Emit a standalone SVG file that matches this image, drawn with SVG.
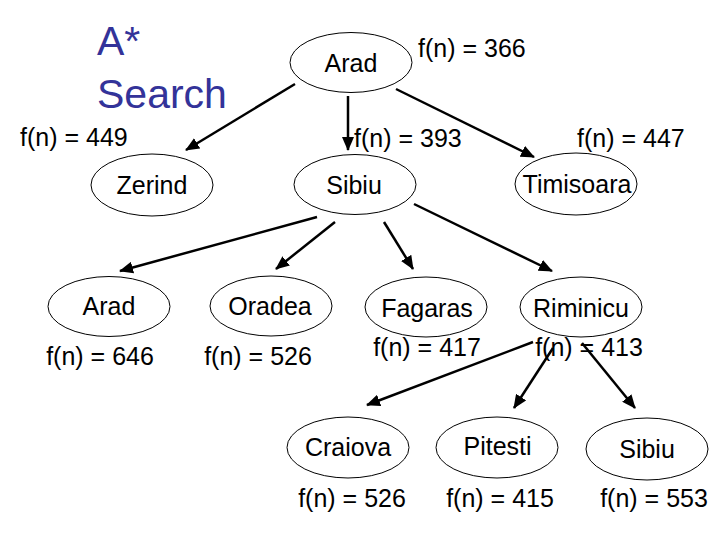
<svg xmlns="http://www.w3.org/2000/svg" width="720" height="540" viewBox="0 0 720 540">
<style>
text{font-family:"Liberation Sans",Arial,sans-serif;font-size:25px;fill:#000}
.t{font-size:41px;fill:#333399}
.m{text-anchor:middle}
ellipse{fill:#fff;stroke:#000;stroke-width:1}
.c line{stroke:#000;stroke-width:2.5}
</style>
<defs>
<marker id="ah" viewBox="0 0 14 12" refX="13" refY="6" markerWidth="14" markerHeight="12" markerUnits="userSpaceOnUse" orient="auto">
<path d="M0,0 L14,6 L0,12 z" fill="#000"/>
</marker>
</defs>
<rect width="720" height="540" fill="#fff"/>
<g id="title">
<text class="t" x="97" y="55">A*</text>
<text class="t" x="97" y="108">Search</text>
</g>
<g class="c" id="connectors" marker-end="url(#ah)">
<line x1="295" y1="84" x2="186" y2="150" marker-end="url(#ah)"/>
<line x1="348" y1="96" x2="348" y2="150" marker-end="url(#ah)"/>
<line x1="396" y1="89" x2="534" y2="157" marker-end="url(#ah)"/>
<line x1="317" y1="217" x2="120" y2="271" marker-end="url(#ah)"/>
<line x1="335" y1="222" x2="276" y2="269" marker-end="url(#ah)"/>
<line x1="384" y1="222" x2="413" y2="269" marker-end="url(#ah)"/>
<line x1="414" y1="204" x2="552" y2="271" marker-end="url(#ah)"/>
<line x1="533" y1="342" x2="367" y2="405" marker-end="url(#ah)"/>
<line x1="553" y1="348" x2="514" y2="408" marker-end="url(#ah)"/>
<line x1="582" y1="343" x2="635" y2="408" marker-end="url(#ah)"/>
</g>
<g id="n-arad">
<ellipse cx="351" cy="62.5" rx="61" ry="30"/>
<text class="m" x="351" y="72">Arad</text>
<text x="418" y="57">f(n) = 366</text>
</g>
<g id="n-zerind">
<ellipse cx="152" cy="185" rx="61" ry="31"/>
<text class="m" x="152" y="194">Zerind</text>
<text x="20" y="146">f(n) = 449</text>
</g>
<g id="n-sibiu">
<ellipse cx="355" cy="184.5" rx="61" ry="30"/>
<text class="m" x="354" y="194">Sibiu</text>
<text x="354" y="147">f(n) = 393</text>
</g>
<g id="n-timisoara">
<ellipse cx="576" cy="184" rx="61" ry="31"/>
<text class="m" x="577" y="193">Timisoara</text>
<text x="577" y="147">f(n) = 447</text>
</g>
<g id="n-arad2">
<ellipse cx="109" cy="306.5" rx="61" ry="30"/>
<text class="m" x="109" y="315">Arad</text>
<text class="m" x="100" y="365">f(n) = 646</text>
</g>
<g id="n-oradea">
<ellipse cx="271" cy="306" rx="61" ry="30"/>
<text class="m" x="270" y="315">Oradea</text>
<text class="m" x="258" y="365">f(n) = 526</text>
</g>
<g id="n-fagaras">
<ellipse cx="426" cy="307" rx="61" ry="30"/>
<text class="m" x="427" y="317">Fagaras</text>
<text class="m" x="427" y="356">f(n) = 417</text>
</g>
<g id="n-riminicu">
<ellipse cx="581" cy="307" rx="61" ry="30"/>
<text class="m" x="581" y="317">Riminicu</text>
<text class="m" x="589" y="356">f(n) = 413</text>
</g>
<g id="n-craiova">
<ellipse cx="348" cy="447.5" rx="61" ry="30.5"/>
<text class="m" x="348" y="456">Craiova</text>
<text class="m" x="352" y="507">f(n) = 526</text>
</g>
<g id="n-pitesti">
<ellipse cx="497" cy="447.5" rx="61" ry="30.5"/>
<text class="m" x="497.5" y="455">Pitesti</text>
<text class="m" x="500" y="507">f(n) = 415</text>
</g>
<g id="n-sibiu2">
<ellipse cx="647" cy="449" rx="61" ry="31"/>
<text class="m" x="647" y="458">Sibiu</text>
<text class="m" x="654" y="507">f(n) = 553</text>
</g>
</svg>
